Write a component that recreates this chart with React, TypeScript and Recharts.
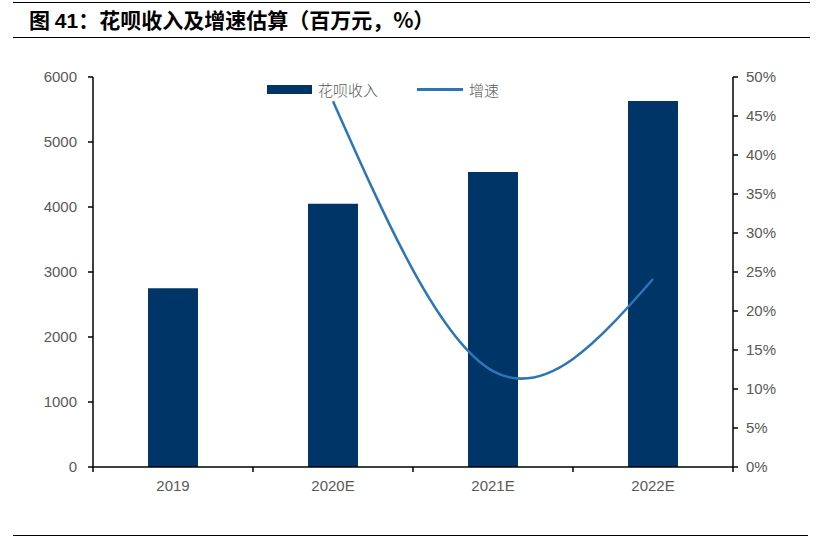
import { ComposedChart, Bar, Line, XAxis, YAxis, Legend } from 'recharts'

const years = ['2019', '2020E', '2021E', '2022E']
const revenue = [2750, 4050, 4540, 5630]
const growth = [null, 0.469, 0.123, 0.241]
const leftTicks = [0, 1000, 2000, 3000, 4000, 5000, 6000]
const rightTicks = [0, 0.05, 0.1, 0.15, 0.2, 0.25, 0.3, 0.35, 0.4, 0.45, 0.5]

const data = years.map((year, i) => ({ year, revenue: revenue[i], growth: growth[i] }))

const BAR_COLOR = '#003567'
const LINE_COLOR = '#2E75B6'
const TEXT_COLOR = '#595959'
const AXIS_FONT = '"Liberation Sans", Arial, sans-serif'

// x轴标签居中，刻度线放在类别边界
const XTick = ({ x, y, payload, index }: any) => {
  const axisY = y - 13
  const half = 80
  return (
    <g>
      <line x1={x - half} x2={x - half} y1={axisY} y2={axisY + 5} stroke="#000" strokeWidth={1.5} />
      {index === years.length - 1 && (
        <line x1={x + half} x2={x + half} y1={axisY} y2={axisY + 5} stroke="#000" strokeWidth={1.5} />
      )}
      <text x={x} y={y} dy="0.71em" textAnchor="middle" fill={TEXT_COLOR} fontSize={15} fontFamily={AXIS_FONT}>
        {payload.value}
      </text>
    </g>
  )
}

const CustomLegend = () => (
  <div style={{ display: 'flex', alignItems: 'center', fontFamily: '"Noto Sans CJK SC", sans-serif', fontSize: 15, color: TEXT_COLOR, fontWeight: 300 }}>
    <div style={{ width: 45, height: 9, background: BAR_COLOR }} />
    <span style={{ marginLeft: 6 }}>花呗收入</span>
    <div style={{ width: 46, height: 3, background: LINE_COLOR, marginLeft: 39 }} />
    <span style={{ marginLeft: 6 }}>增速</span>
  </div>
)

export default function App() {
  return (
    <div style={{ position: 'absolute', left: 0, top: 0, width: 818, height: 537, background: '#fff' }}>
      <div style={{ position: 'absolute', left: 13, right: 8, top: 2, borderTop: '1px solid #000' }} />
      <div
        style={{
          position: 'absolute',
          left: 29,
          top: 5,
          fontSize: 21,
          fontWeight: 700,
          fontFamily: '"Noto Sans CJK SC", sans-serif',
          color: '#000',
          lineHeight: '28px',
          whiteSpace: 'nowrap',
        }}
      >
        图 <span style={{ fontFamily: '"Liberation Sans", Arial, sans-serif' }}>41</span>：花呗收入及增速估算（百万元，%）
      </div>
      <div style={{ position: 'absolute', left: 13, right: 8, top: 37, borderTop: '1.5px solid #000' }} />

      <div style={{ position: 'absolute', left: 0, top: 0 }}>
        <ComposedChart width={818} height={537} data={data} margin={{ top: 77, right: 25, bottom: 40, left: 33 }}>
          <XAxis
            dataKey="year"
            height={30}
            tick={<XTick />}
            tickLine={false}
            tickSize={5}
            tickMargin={8}
            axisLine={{ stroke: '#000', strokeWidth: 1.5 }}
            interval={0}
          />
          <YAxis
            yAxisId="left"
            width={60}
            domain={[0, 6000]}
            ticks={leftTicks}
            interval={0}
            tickSize={5}
            tickMargin={11}
            axisLine={{ stroke: '#000', strokeWidth: 1.5 }}
            tickLine={{ stroke: '#000', strokeWidth: 1.5 }}
            tick={{ fill: TEXT_COLOR, fontSize: 15, fontFamily: AXIS_FONT }}
          />
          <YAxis
            yAxisId="right"
            orientation="right"
            width={60}
            domain={[0, 0.5]}
            ticks={rightTicks}
            interval={0}
            tickSize={5}
            tickMargin={8}
            axisLine={{ stroke: '#000', strokeWidth: 1.5 }}
            tickLine={{ stroke: '#000', strokeWidth: 1.5 }}
            tick={{ fill: TEXT_COLOR, fontSize: 15, fontFamily: AXIS_FONT }}
            tickFormatter={(v: number) => `${Math.round(v * 100)}%`}
          />
          <Legend
            layout="horizontal"
            verticalAlign="middle"
            align="center"
            content={<CustomLegend />}
            wrapperStyle={{ top: 79, left: 267, width: 280 }}
          />
          <Bar yAxisId="left" dataKey="revenue" fill={BAR_COLOR} barSize={50} isAnimationActive={false} />
          <Line
            yAxisId="right"
            dataKey="growth"
            type="natural"
            stroke={LINE_COLOR}
            strokeWidth={2.5}
            dot={false}
            connectNulls={false}
            isAnimationActive={false}
          />
        </ComposedChart>
      </div>

      <div style={{ position: 'absolute', left: 13, right: 10, top: 535, borderTop: '1px solid #000' }} />
    </div>
  )
}
